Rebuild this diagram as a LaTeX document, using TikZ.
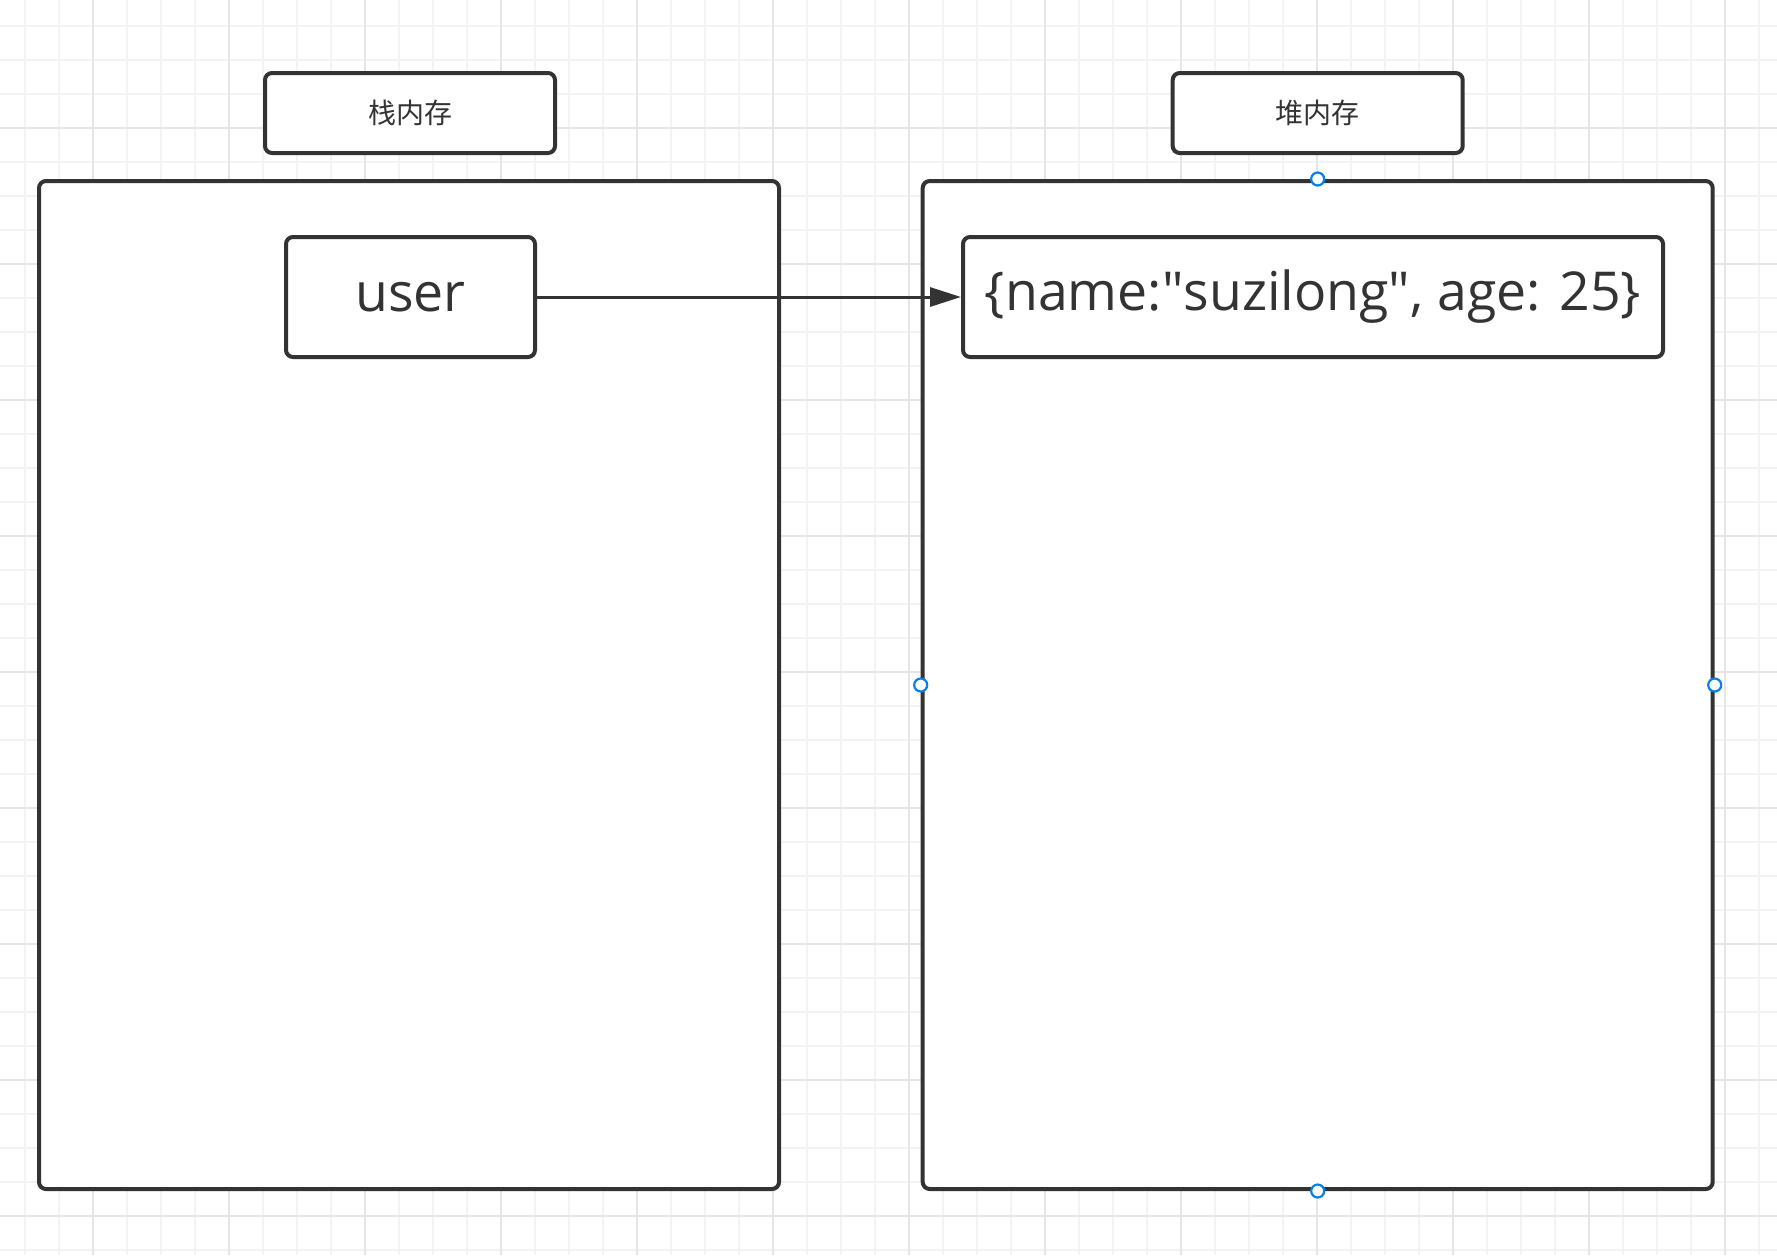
\documentclass[tikz,border=0pt]{standalone}
\usepackage{fontspec}
\setmainfont{Open Sans}
\newfontfamily\cjk{Noto Sans CJK SC}
\usetikzlibrary{arrows.meta,positioning}
\definecolor{ink}{HTML}{333333}
\definecolor{gridminor}{HTML}{F3F3F3}
\definecolor{gridmajor}{HTML}{E6E6E6}
\definecolor{handleblue}{HTML}{0A7FE8}
\newcommand{\dq}{\XeTeXglyph\XeTeXcharglyph"22\relax}

\begin{document}
\begin{tikzpicture}[x=0.5pt,y=-0.5pt,
    membox/.style={draw=ink,line width=2pt,rounded corners=3.5pt,fill=white,inner sep=0pt},
    title/.style={membox,minimum width=145pt,minimum height=40pt,text=ink,font=\cjk\fontsize{14}{17}\selectfont},
    item/.style={membox,minimum height=60pt,text=ink,font=\fontsize{26.8}{32}\selectfont},
    handle/.style={circle,draw=handleblue,fill=white,line width=1.1pt,minimum size=6.5pt,inner sep=0pt}]
    \useasboundingbox (0,0) rectangle (1777,1255);
    \fill[white] (0,0) rectangle (1777,1255);
    % grid
    \foreach \x in {25,59,...,1777} \draw[gridminor,line width=1pt] (\x,0) -- (\x,1255);
    \foreach \y in {26,60,...,1255} \draw[gridminor,line width=1pt] (0,\y) -- (1777,\y);
    \foreach \x in {93,229,...,1777} \draw[gridmajor,line width=1pt] (\x,0) -- (\x,1255);
    \foreach \y in {128,264,...,1255} \draw[gridmajor,line width=1pt] (0,\y) -- (1777,\y);
    % memory areas
    \node[membox,minimum width=370pt,minimum height=504pt] (stack) at (409,685) {};
    \node[membox,minimum width=395pt,minimum height=504pt] (heap) at (1317.7,685) {};
    \node[title] (stacktitle) at (410,113) {栈内存};
    \node[title] (heaptitle) at (1317.7,113) {堆内存};
    \node[item,minimum width=124.5pt] (user) at (410.5,297) {user};
    \node[item,minimum width=350pt] (obj) at (1313,297) {\{name:\dq suzilong\dq, age: 25\}};
    \draw[ink,line width=1.5pt,-{Triangle[length=15.5pt,width=9.5pt]}] (user) -- (obj);
    % selection handles
    \foreach \a in {north,south,west,east}
        \node[handle] at (heap.\a) {};
\end{tikzpicture}
\end{document}
